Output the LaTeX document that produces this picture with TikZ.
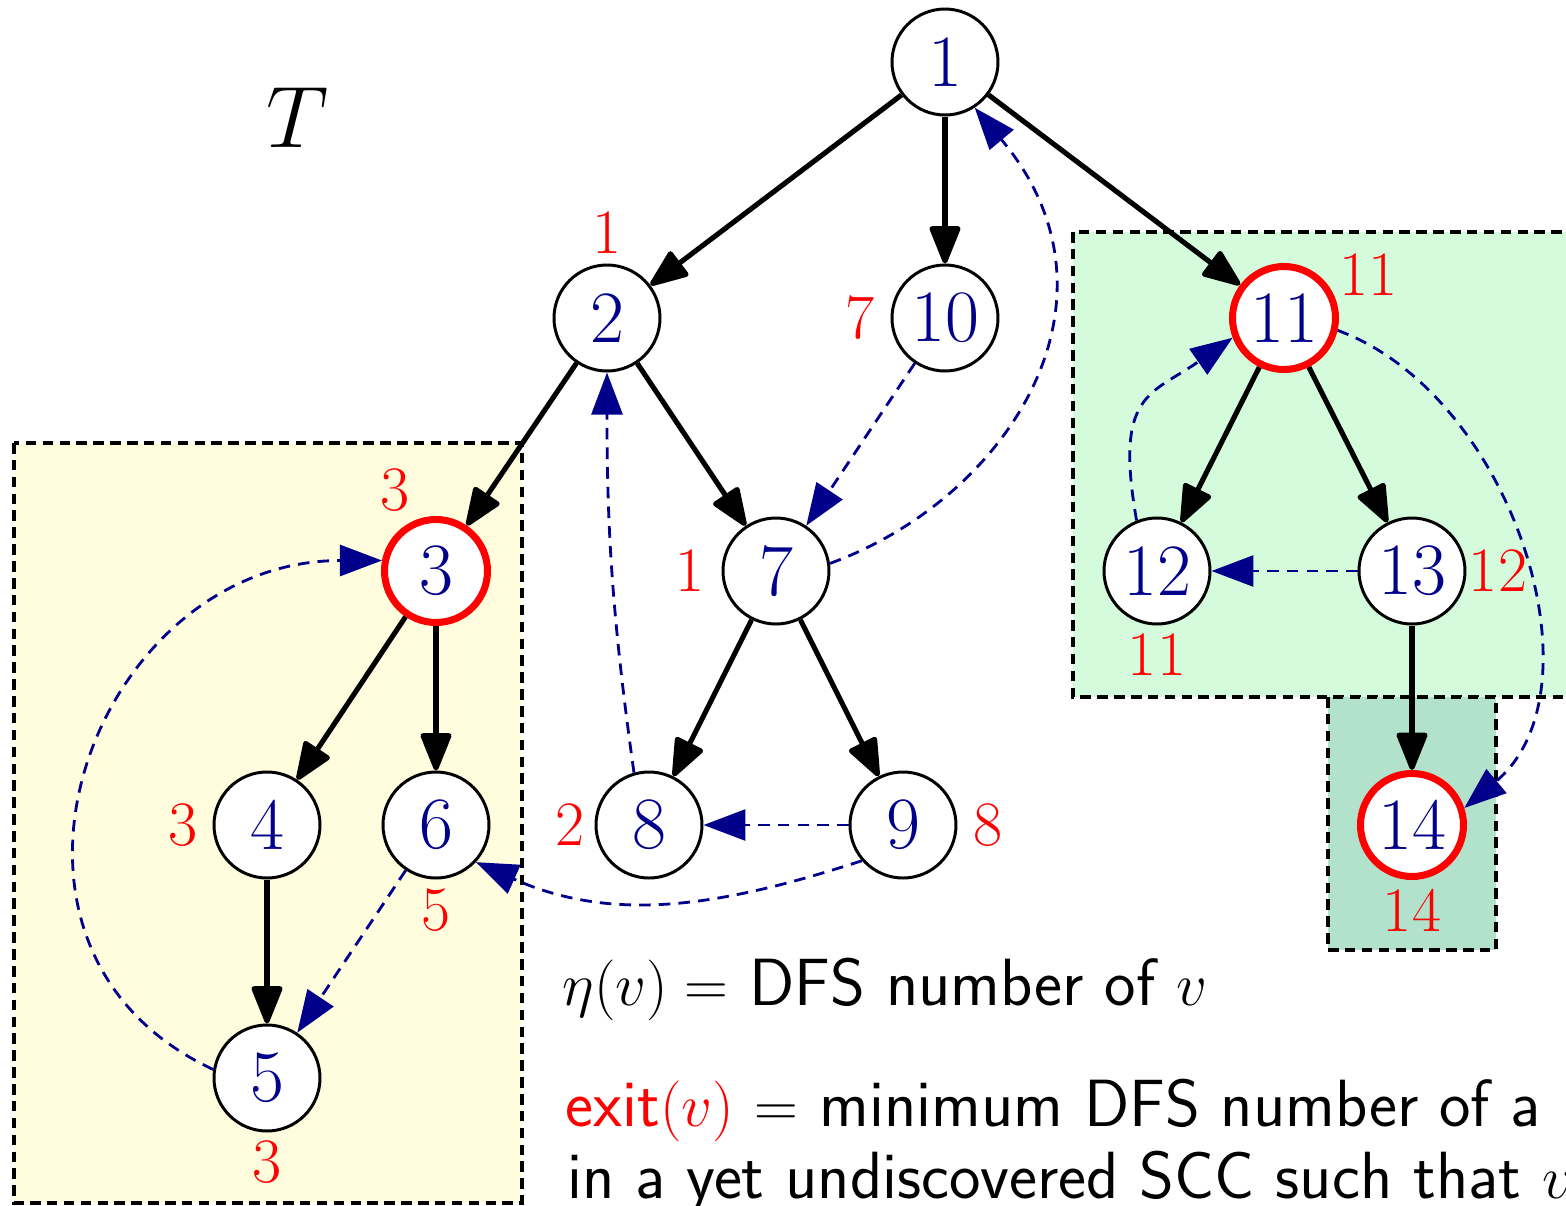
\documentclass[tikz,border=0pt]{standalone}
\usetikzlibrary{arrows.meta}
\definecolor{navy}{RGB}{0,0,139}
\definecolor{sccyellow}{RGB}{255,253,222}
\definecolor{sccgreen}{RGB}{212,252,220}
\definecolor{sccdark}{RGB}{179,226,204}

\begin{document}
\begin{tikzpicture}[>={Triangle[length=4.2mm,width=3.2mm,round]},
  vtx/.style={circle, draw, line width=0.85pt, fill=white, minimum size=10.6mm, inner sep=0pt,
    text=navy, font=\fontsize{21}{24}\selectfont},
  sccroot/.style={vtx, draw=red, line width=2pt, minimum size=10.3mm},
  exitlab/.style={text=red, font=\fontsize{18}{21}\selectfont, inner sep=0pt},
  treeedge/.style={->, line width=1.45pt},
  backedge/.style={-{Triangle[length=4.2mm,width=3.1mm]}, navy, line width=0.8pt, dash pattern=on 3.3pt off 2.3pt},
  scc/.style={draw, line width=1pt, dash pattern=on 3pt off 1.8pt},
  txt/.style={anchor=base west, inner sep=0pt, font=\sffamily\fontsize{19}{23}\selectfont}]
\useasboundingbox (0,0) rectangle (15.66,-12.06);
\clip (0,0) rectangle (15.66,-12.06);

% components
\draw[scc, fill=sccyellow] (0.14,-4.43) rectangle (5.22,-12.03);
\draw[scc, fill=sccgreen] (10.73,-2.32) rectangle (16.2,-6.97);
\draw[scc, fill=sccdark] (13.28,-6.97) rectangle (14.96,-9.50);

\node[font=\fontsize{24}{28}\selectfont] (tname) at (2.98,-1.18) {$T$};

% vertices
\node[vtx] (n1) at (9.45,-0.62) {1};
\node[vtx] (n2) at (6.07,-3.18) {2};
\node[vtx] (n10) at (9.45,-3.18) {10};
\node[sccroot] (n11) at (12.84,-3.18) {11};
\node[sccroot] (n3) at (4.36,-5.71) {3};
\node[vtx] (n7) at (7.76,-5.71) {7};
\node[vtx] (n12) at (11.57,-5.71) {12};
\node[vtx] (n13) at (14.12,-5.71) {13};
\node[vtx] (n4) at (2.67,-8.25) {4};
\node[vtx] (n6) at (4.36,-8.25) {6};
\node[vtx] (n8) at (6.49,-8.25) {8};
\node[vtx] (n9) at (9.03,-8.25) {9};
\node[sccroot] (n14) at (14.12,-8.25) {14};
\node[vtx] (n5) at (2.67,-10.78) {5};

% exit values
\foreach \v/\a/\d/\t in {2/90/.85/1, 10/180/.85/7, 11/27/.95/11, 3/117/.91/3, 7/180/.86/1,
    12/-90/.84/11, 13/0/.86/12, 4/180/.84/3, 6/-90/.85/5, 8/180/.79/2, 9/0/.85/8,
    14/-90/.85/14, 5/-90/.84/3}
  \path (n\v) ++(\a:\d) node[exitlab] (x\v) {\t};

% tree edges
\foreach \a/\b in {1/2,1/10,1/11,2/3,2/7,3/4,3/6,4/5,7/8,7/9,11/12,11/13,13/14}
  \draw[treeedge] (n\a) -- (n\b);

% other edges
\draw[backedge] (n10) -- (n7);
\draw[backedge] (n9) -- (n8);
\draw[backedge] (n6) -- (n5);
\draw[backedge] (n13) -- (n12);
\draw[backedge] (n7.8) to[out=20, in=-50, out distance=1.9cm, in distance=2.5cm] (n1.-57);
\draw[backedge] (n8.106) to[out=98, in=-90] (n2.-90);
\draw[backedge] (n9.-139) to[out=198, in=-24, distance=1.5cm] (n6.-43);
\draw[backedge] (n5.171) to[out=155, in=180, distance=2.9cm] (n3.169);
\draw[backedge] (n12.112) to[out=100, in=215, out distance=1.3cm, in distance=1cm] (n11.-159);
\draw[backedge] (n11.-13) to[out=-20, in=40, distance=1.85cm] (n14.18);

% definitions
\node[txt] (eta) at (5.62,-10.05) {$\eta(v) =$ DFS number of $v$};
\node[txt] (exitdef) at (5.65,-11.26) {\textcolor{red}{exit$(v)$} $=$ minimum DFS number of a};
\node[txt] (exitdef2) at (5.67,-11.98) {in a yet undiscovered SCC such that $v$};
\end{tikzpicture}
\end{document}
